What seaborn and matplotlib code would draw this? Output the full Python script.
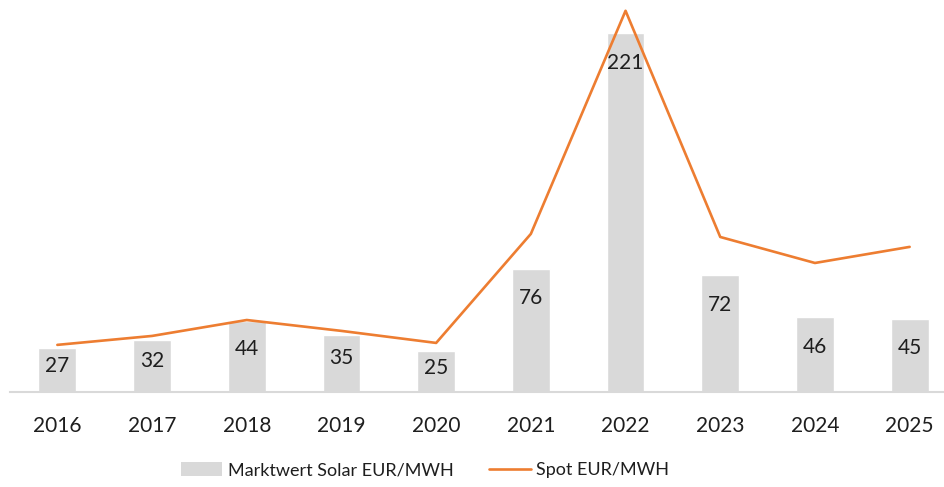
import numpy as np
import pandas as pd
import matplotlib
matplotlib.use('Agg')
import matplotlib.pyplot as plt
import seaborn as sns
from matplotlib.patches import Patch
from matplotlib.lines import Line2D

# Дані
years = ['2016', '2017', '2018', '2019', '2020', '2021', '2022', '2023', '2024', '2025']
marktwert_solar = [27, 32, 44, 35, 25, 76, 221, 72, 46, 45]
spot = [29, 34.5, 44.3, 37.6, 30.2, 97.3, 234.6, 95.4, 79.4, 89.3]

BAR_COLOR = '#d9d9d9'
LINE_COLOR = '#ed7d31'
TEXT_COLOR = '#1e1e1e'

sns.set_style('white')
plt.rcParams['font.family'] = ['Lato', 'DejaVu Sans']

df = pd.DataFrame({'year': years, 'solar': marktwert_solar, 'spot': spot})

fig = plt.figure(figsize=(9.44, 4.87), dpi=100)
# графік трохи виходить за правий край, як на скріншоті
ax = fig.add_axes([10 / 944, 95 / 487, 947 / 944, 390 / 487])

sns.barplot(data=df, x='year', y='solar', color=BAR_COLOR, width=0.4,
            saturation=1, ax=ax)
sns.lineplot(x=np.arange(len(years)), y=df['spot'], color=LINE_COLOR,
             linewidth=1.9, ax=ax)

ax.set_xlim(-0.5, len(years) - 0.5)
ax.set_ylim(0, 240)

# підписи всередині стовпців
px_per_unit = ax.get_window_extent().height / 240
for i, v in enumerate(marktwert_solar):
    h_px = v * px_per_unit
    off_px = min(30, 0.4 * h_px)
    ax.annotate(str(v), xy=(i, v), xytext=(0, -off_px * 72 / fig.dpi),
                textcoords='offset points', ha='center', va='center',
                fontsize=15, color=TEXT_COLOR)

for s in ['top', 'right', 'left']:
    ax.spines[s].set_visible(False)
ax.spines['bottom'].set_color(BAR_COLOR)
ax.spines['bottom'].set_linewidth(1.5)
ax.set_yticks([])
ax.set_xlabel('')
ax.set_ylabel('')
ax.tick_params(axis='x', length=0, pad=17, labelsize=15, labelcolor=TEXT_COLOR)

handles = [Patch(facecolor=BAR_COLOR, edgecolor='none'),
           Line2D([0], [0], color=LINE_COLOR, linewidth=1.9)]
fig.legend(handles, ['Marktwert Solar EUR/MWH', 'Spot EUR/MWH'],
           loc='center', bbox_to_anchor=(425 / 944, 1 - 470 / 487), ncol=2,
           frameon=False, fontsize=13, handlelength=2.3, handleheight=0.8,
           handletextpad=0.3, columnspacing=2.0, labelcolor=TEXT_COLOR)

plt.savefig('out.png', dpi=100)
plt.close()
